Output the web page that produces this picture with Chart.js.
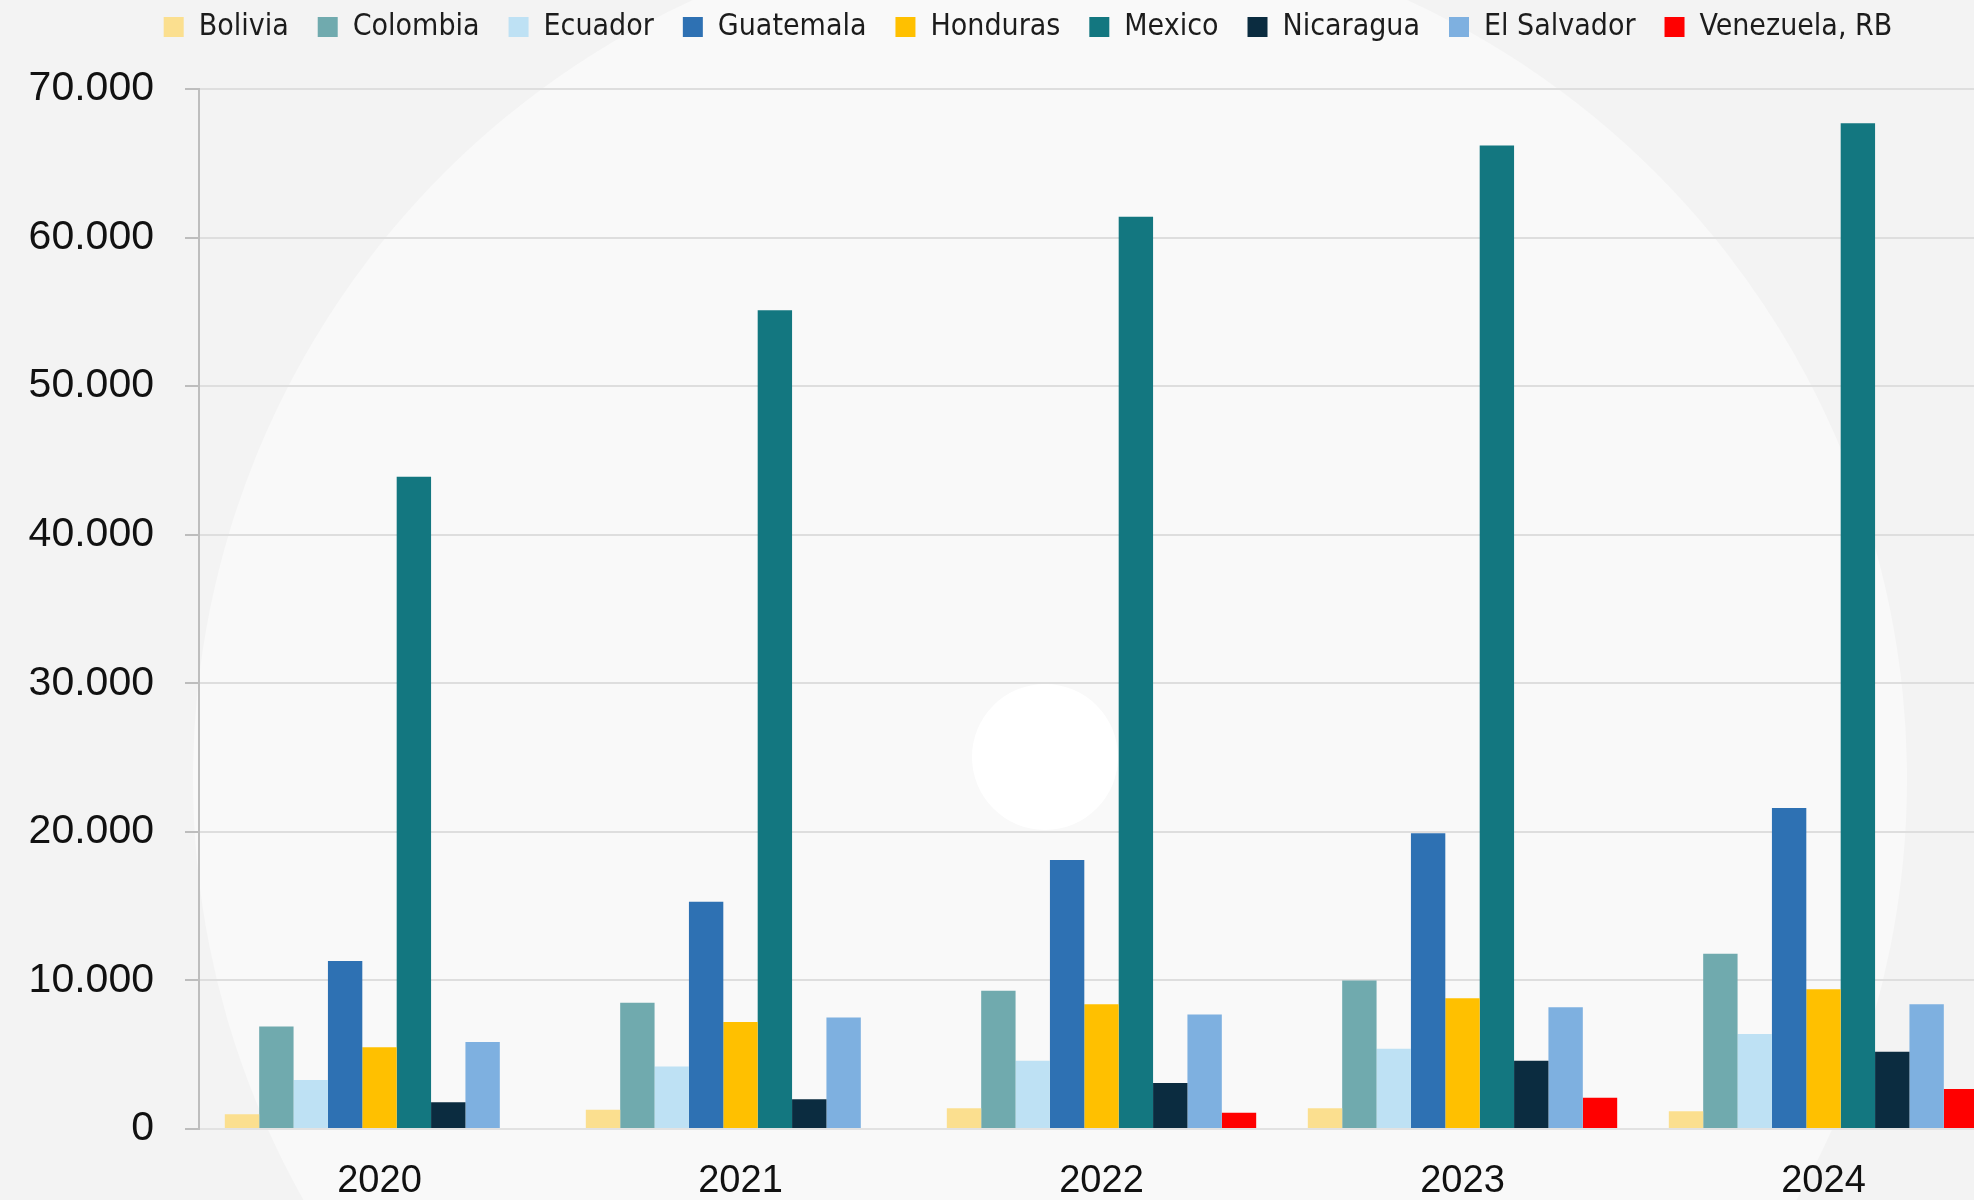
<!DOCTYPE html>
<html>
<head>
<meta charset="utf-8">
<script src="https://cdn.jsdelivr.net/npm/chart.js@4.4.1/dist/chart.umd.min.js"></script>
<style>
  html, body { margin: 0; padding: 0; overflow: hidden; background: #f3f3f3; }
  body { width: 1974px; height: 1200px; position: relative; }
  /* decorative background circles */
  .bigCircle { position: absolute; left: 193px; top: -78px; width: 1714px; height: 1714px; border-radius: 50%; background: #f9f9f9; }
  .dot { position: absolute; left: 972px; top: 684px; width: 146px; height: 146px; border-radius: 50%; background: #ffffff; }
  .wrap { position: absolute; left: 0; top: 0; width: 2004px; height: 1200px; }
</style>
</head>
<body>
<div class="bigCircle"></div>
<div class="dot"></div>
<div class="wrap"><canvas id="chart"></canvas></div>
<script>
// 年份 (類別)
const years = ['2020', '2021', '2022', '2023', '2024'];

// 各國數值
const bolivia    = [1000, 1300, 1400, 1400, 1200];
const colombia   = [6900, 8500, 9300, 10000, 11800];
const ecuador    = [3300, 4200, 4600, 5400, 6400];
const guatemala  = [11300, 15300, 18100, 19900, 21600];
const honduras   = [5500, 7200, 8400, 8800, 9400];
const mexico     = [43900, 55100, 61400, 66200, 67700];
const nicaragua  = [1800, 2000, 3100, 4600, 5200];
const elSalvador = [5850, 7500, 7700, 8200, 8400];
const venezuela  = [null, null, 1100, 2100, 2700];

// Y 軸刻度
const yTicks = [0, 10000, 20000, 30000, 40000, 50000, 60000, 70000];

const countryNames = ['Bolivia', 'Colombia', 'Ecuador', 'Guatemala', 'Honduras', 'Mexico', 'Nicaragua', 'El Salvador', 'Venezuela, RB'];
const countryValues = [bolivia, colombia, ecuador, guatemala, honduras, mexico, nicaragua, elSalvador, venezuela];
const countryColors = ['#fbdf8f', '#70aaae', '#bee1f4', '#2e71b3', '#ffc000', '#137780', '#0b2c40', '#7eb0e0', '#ff0000'];

const datasets = countryNames.map((name, i) => ({
  label: name,
  data: countryValues[i],
  backgroundColor: countryColors[i],
  borderWidth: 0,
  categoryPercentage: 0.857,
  barPercentage: 1.0,
}));

// 固定圖例高度，讓繪圖區從正確位置開始；並把圖例稍微往右移
const legendHeightPlugin = {
  id: 'legendHeight',
  beforeInit(chart) {
    const origFit = chart.legend.fit;
    chart.legend.fit = function() {
      origFit.bind(chart.legend)();
      this.height = 106;
    };
  },
  afterLayout(chart) {
    chart.legend.left += 52;
  }
};

new Chart(document.getElementById('chart'), {
  type: 'bar',
  data: { labels: years, datasets },
  options: {
    responsive: true,
    maintainAspectRatio: false,
    animation: false,
    // 上方負的 padding 讓圖例往上移
    layout: { padding: { left: 0, right: 0, top: -17, bottom: 0 } },
    plugins: {
      tooltip: { enabled: false },
      legend: {
        position: 'top',
        align: 'center',
        labels: {
          boxWidth: 20,
          boxHeight: 20,
          padding: 29,
          color: '#1c1c1c',
          font: { family: "'DejaVu Sans Condensed', 'DejaVu Sans'", size: 30 },
        },
      },
    },
    scales: {
      x: {
        grid: { display: false, drawTicks: false },
        border: { color: '#e2e2e2', width: 2 },
        ticks: {
          color: '#111',
          padding: 30,
          font: { family: "'Liberation Sans', Arial", size: 38 },
        },
        afterFit: scale => { scale.height = 71; },
      },
      y: {
        min: 0,
        max: 70000,
        afterBuildTicks: scale => { scale.ticks = yTicks.map(v => ({ value: v })); },
        grid: { color: '#dedede', lineWidth: 2, tickLength: 14, tickColor: '#bdbdbd' },
        border: { color: '#bdbdbd', width: 2 },
        ticks: {
          color: '#111',
          padding: 31,
          font: { family: "'Liberation Sans', Arial", size: 41 },
          callback: value => value.toLocaleString('de-DE'),
        },
        afterFit: scale => { scale.width = 199; },
      },
    },
  },
  plugins: [legendHeightPlugin],
});
</script>
</body>
</html>
